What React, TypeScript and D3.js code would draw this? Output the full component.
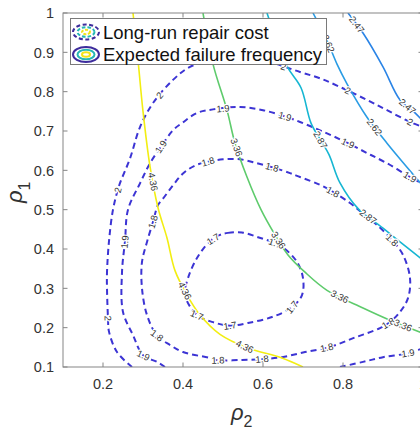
import React from "react";
import * as d3 from "d3";

type Pt = [number, number];

// ---------- axis data ----------
const rho2Domain: Pt = [0.1, 1.0];
const rho1Domain: Pt = [0.1, 1.0];
const rho2Ticks = [0.2, 0.4, 0.6, 0.8, 1.0];
const rho2TickLabels = ["0.2", "0.4", "0.6", "0.8", "1"];
const rho1Ticks = [0.1, 0.2, 0.3, 0.4, 0.5, 0.6, 0.7, 0.8, 0.9, 1.0];
const rho1TickLabels = ["0.1", "0.2", "0.3", "0.4", "0.5", "0.6", "0.7", "0.8", "0.9", "1"];

const legendLabels = ["Long-run repair cost", "Expected failure frequency"];

// ---------- expected failure frequency (solid contours) ----------
const failureLevels = ["4.36", "3.36", "2.87", "2.62", "2.47"];
const failure436: Pt[] = [[0.275, 1.0], [0.2875, 0.88], [0.30, 0.75], [0.3175, 0.61], [0.3375, 0.505], [0.36, 0.428], [0.38, 0.345], [0.41, 0.283], [0.4425, 0.232], [0.4925, 0.183], [0.5625, 0.148], [0.6475, 0.123], [0.70, 0.1]];
const failure336: Pt[] = [[0.45, 1.0], [0.475, 0.87], [0.51, 0.753], [0.53, 0.669], [0.56, 0.583], [0.595, 0.5], [0.63, 0.436], [0.6625, 0.385], [0.705, 0.341], [0.76, 0.295], [0.85, 0.25], [0.9175, 0.219], [1.0, 0.186]];
const failure287: Pt[] = [[0.61, 1.0], [0.66, 0.865], [0.695, 0.81], [0.72, 0.72], [0.745, 0.675], [0.765, 0.64], [0.7925, 0.568], [0.84, 0.5], [0.90, 0.453], [0.9425, 0.418], [1.0, 0.372]];
const failure262: Pt[] = [[0.725, 1.0], [0.76, 0.93], [0.785, 0.87], [0.81, 0.82], [0.86, 0.735], [0.91, 0.669], [0.96, 0.608], [1.0, 0.56]];
const failure247: Pt[] = [[0.8125, 1.0], [0.85, 0.949], [0.90, 0.863], [0.9425, 0.779], [0.98, 0.746], [1.0, 0.725]];
const failureLines = [failure436, failure336, failure287, failure262, failure247];

const failureLabels436: Pt[] = [[0.32, 0.57], [0.3975, 0.29], [0.55, 0.143]];
const failureLabels336: Pt[] = [[0.53, 0.657], [0.635, 0.42], [0.7875, 0.27], [0.9475, 0.199]];
const failureLabels287: Pt[] = [[0.7425, 0.677], [0.86, 0.478]];
const failureLabels262: Pt[] = [[0.7675, 0.924], [0.875, 0.707]];
const failureLabels247: Pt[] = [[0.83, 0.967], [0.96, 0.761]];
const failureLabels = [failureLabels436, failureLabels336, failureLabels287, failureLabels262, failureLabels247];

// ---------- long-run repair cost (dashed contours) ----------
const costLevels = ["2", "1.9", "1.9", "1.8", "1.7"];
const cost20: Pt[] = [[0.2725, 0.1], [0.235, 0.138], [0.215, 0.19], [0.2125, 0.224], [0.21, 0.3], [0.21, 0.341], [0.215, 0.42], [0.225, 0.5], [0.24, 0.56], [0.2675, 0.63], [0.2925, 0.71], [0.325, 0.771], [0.375, 0.83], [0.4175, 0.863], [0.48, 0.882], [0.55, 0.886], [0.62, 0.874], [0.6925, 0.85], [0.7425, 0.834], [0.7925, 0.812], [0.86, 0.779], [0.91, 0.753], [0.9675, 0.723], [1.0, 0.71]];
const cost19: Pt[] = [[0.355, 0.1], [0.335, 0.113], [0.30, 0.13], [0.275, 0.181], [0.25, 0.24], [0.2475, 0.341], [0.255, 0.42], [0.2625, 0.5], [0.2925, 0.567], [0.3175, 0.618], [0.345, 0.66], [0.375, 0.702], [0.40, 0.722], [0.435, 0.746], [0.475, 0.755], [0.5425, 0.761], [0.60, 0.753], [0.655, 0.737], [0.6925, 0.723], [0.76, 0.694], [0.8125, 0.669], [0.86, 0.644], [0.91, 0.618], [0.9675, 0.583], [1.0, 0.565]];
const cost19b: Pt[] = [[0.7925, 0.1], [0.85, 0.113], [0.90, 0.125], [0.9625, 0.135], [1.0, 0.148]];
const cost18: Pt[] = [[0.3375, 0.512], [0.35, 0.528], [0.375, 0.562], [0.40, 0.592], [0.43, 0.612], [0.4625, 0.622], [0.50, 0.628], [0.5425, 0.628], [0.585, 0.618], [0.6225, 0.608], [0.6675, 0.593], [0.6925, 0.583], [0.7425, 0.563], [0.775, 0.545], [0.8175, 0.517], [0.85, 0.49], [0.885, 0.461], [0.9225, 0.423], [0.95, 0.385], [0.9675, 0.326], [0.9625, 0.275], [0.9425, 0.24], [0.9175, 0.214], [0.8925, 0.199], [0.83, 0.175], [0.7675, 0.151], [0.705, 0.138], [0.6475, 0.125], [0.5975, 0.12], [0.5475, 0.118], [0.4875, 0.117], [0.4675, 0.123], [0.40, 0.138], [0.3675, 0.156], [0.335, 0.18], [0.31, 0.232], [0.2975, 0.30], [0.2975, 0.367], [0.31, 0.418], [0.325, 0.469]];
const cost17: Pt[] = [[0.4925, 0.436], [0.5125, 0.441], [0.5475, 0.442], [0.5875, 0.43], [0.63, 0.415], [0.655, 0.40], [0.685, 0.367], [0.70, 0.326], [0.6975, 0.283], [0.6725, 0.252], [0.6225, 0.227], [0.5625, 0.212], [0.5175, 0.205], [0.475, 0.214], [0.435, 0.232], [0.405, 0.283], [0.4125, 0.326], [0.435, 0.377], [0.4675, 0.42]];
const costLines = [cost20, cost19, cost19b, cost18, cost17];
const costClosed = [false, false, false, true, true];

const costLabels20: Pt[] = [[0.2375, 0.55], [0.3425, 0.79], [0.21, 0.224], [0.65, 0.86], [0.8125, 0.803], [0.9675, 0.723]];
const costLabels19: Pt[] = [[0.255, 0.418], [0.30, 0.128], [0.345, 0.66], [0.50, 0.757], [0.655, 0.737], [0.8125, 0.669], [0.9675, 0.583]];
const costLabels19b: Pt[] = [[0.9625, 0.135]];
const costLabels18: Pt[] = [[0.325, 0.469], [0.4625, 0.622], [0.6225, 0.608], [0.775, 0.545], [0.9225, 0.423], [0.9125, 0.212], [0.76, 0.147], [0.5975, 0.12], [0.4875, 0.117], [0.335, 0.18]];
const costLabels17: Pt[] = [[0.475, 0.425], [0.435, 0.232], [0.5175, 0.205], [0.6725, 0.252], [0.63, 0.415]];
const costLabels = [costLabels20, costLabels19, costLabels19b, costLabels18, costLabels17];

// ---------- styles ----------
const failureColors = ["#f2ee12", "#5ecb6c", "#16b6d2", "#2a9ce4", "#2a84e6"];
const costColor = "#3c34d4";
const FONT = "'Liberation Sans', Arial, Helvetica, sans-serif";

const X0 = 63, X1 = 423, Y0 = 13, Y1 = 367;

function snapLabel(pts: [number, number][], p: [number, number]) {
  let best = { d: Infinity, x: p[0], y: p[1], a: 0 };
  for (let i = 0; i < pts.length - 1; i++) {
    const [ax, ay] = pts[i];
    const [bx, by] = pts[i + 1];
    const dx = bx - ax, dy = by - ay;
    const L2 = dx * dx + dy * dy || 1;
    let t = ((p[0] - ax) * dx + (p[1] - ay) * dy) / L2;
    t = Math.max(0, Math.min(1, t));
    const qx = ax + t * dx, qy = ay + t * dy;
    const d = (qx - p[0]) ** 2 + (qy - p[1]) ** 2;
    if (d < best.d) {
      let a = (Math.atan2(dy, dx) * 180) / Math.PI;
      if (a > 90) a -= 180;
      if (a < -90) a += 180;
      best = { d, x: qx, y: qy, a };
    }
  }
  return best;
}

export default function App() {
  const x = d3.scaleLinear().domain(rho2Domain).range([X0, X1]);
  const y = d3.scaleLinear().domain(rho1Domain).range([Y1, Y0]);

  const openLine = d3.line<Pt>().x((d) => x(d[0])).y((d) => y(d[1])).curve(d3.curveCatmullRom.alpha(0.5));
  const closedLine = d3.line<Pt>().x((d) => x(d[0])).y((d) => y(d[1])).curve(d3.curveCatmullRomClosed.alpha(0.5));

  const toPx = (arr: Pt[], closed: boolean): [number, number][] => {
    const p = arr.map((d) => [x(d[0]), y(d[1])] as [number, number]);
    if (closed) p.push(p[0]);
    return p;
  };

  const labelEls: React.ReactNode[] = [];
  costLines.forEach((line, i) => {
    const px = toPx(line, costClosed[i]);
    costLabels[i].forEach((lp, j) => {
      const s = snapLabel(px, [x(lp[0]), y(lp[1])]);
      labelEls.push(
        <text key={`c${i}-${j}`} transform={`translate(${s.x},${s.y}) rotate(${s.a})`} textAnchor="middle" dy="0.35em"
          fontSize={9.5} fontFamily={FONT} fill="#333" stroke="#fff" strokeWidth={2.5} paintOrder="stroke">
          {costLevels[i]}
        </text>
      );
    });
  });
  failureLines.forEach((line, i) => {
    const px = toPx(line, false);
    failureLabels[i].forEach((lp, j) => {
      const s = snapLabel(px, [x(lp[0]), y(lp[1])]);
      labelEls.push(
        <text key={`f${i}-${j}`} transform={`translate(${s.x},${s.y}) rotate(${s.a})`} textAnchor="middle" dy="0.35em"
          fontSize={9.5} fontFamily={FONT} fill="#333" stroke="#fff" strokeWidth={2.5} paintOrder="stroke">
          {failureLevels[i]}
        </text>
      );
    });
  });

  const tickLen = 4.5;
  const axisColor = "#858585";

  return (
    <svg width={420} height={430} style={{ position: "absolute", left: 0, top: 0, background: "#fff" }}>
      <defs>
        <clipPath id="plotClip">
          <rect x={X0} y={Y0} width={X1 - X0} height={Y1 - Y0} />
        </clipPath>
      </defs>
      <rect x={0} y={0} width={420} height={430} fill="#fff" />

      <g clipPath="url(#plotClip)">
        {costLines.map((line, i) => (
          <path key={`cl${i}`} d={(costClosed[i] ? closedLine : openLine)(line) || ""} fill="none" stroke={costColor}
            strokeWidth={2} strokeDasharray="6,4" />
        ))}
        {failureLines.map((line, i) => (
          <path key={`fl${i}`} d={openLine(line) || ""} fill="none" stroke={failureColors[i]} strokeWidth={1.6} />
        ))}
        {labelEls}
      </g>

      {/* axes box */}
      <rect x={X0} y={Y0} width={X1 - X0} height={Y1 - Y0} fill="none" stroke={axisColor} strokeWidth={1} />
      {rho2Ticks.map((t, i) => (
        <g key={`xt${i}`}>
          <line x1={x(t)} x2={x(t)} y1={Y1} y2={Y1 - tickLen} stroke={axisColor} />
          <line x1={x(t)} x2={x(t)} y1={Y0} y2={Y0 + tickLen} stroke={axisColor} />
          <text x={x(t)} y={388.5} textAnchor="middle" fontSize={14.5} fontFamily={FONT} fill="#333">
            {rho2TickLabels[i]}
          </text>
        </g>
      ))}
      {rho1Ticks.map((t, i) => (
        <g key={`yt${i}`}>
          <line x1={X0} x2={X0 + tickLen} y1={y(t)} y2={y(t)} stroke={axisColor} />
          <line x1={X1} x2={X1 - tickLen} y1={y(t)} y2={y(t)} stroke={axisColor} />
          <text x={54} y={y(t)} dy="0.36em" textAnchor="end" fontSize={14.5} fontFamily={FONT} fill="#333">
            {rho1TickLabels[i]}
          </text>
        </g>
      ))}

      {/* axis labels */}
      <text x={231} y={420} fontSize={22} fontFamily={FONT} fontStyle="italic" fill="#333">
        ρ<tspan fontSize={16} fontStyle="normal" dy={7}>2</tspan>
      </text>
      <text transform="translate(22,203) rotate(-90)" fontSize={22} fontFamily={FONT} fontStyle="italic" fill="#333">
        ρ<tspan fontSize={16} fontStyle="normal" dy={8}>1</tspan>
      </text>

      {/* legend */}
      <g>
        <rect x={70.5} y={18.5} width={256} height={46} fill="#fff" stroke="#7a7a7a" strokeWidth={1} />
        <g>
          <ellipse cx={86} cy={32} rx={13} ry={7.5} fill="none" stroke="#3d2c9c" strokeWidth={2} strokeDasharray="4,2.5" />
          <ellipse cx={86} cy={32} rx={8.5} ry={4.8} fill="none" stroke="#26b8b4" strokeWidth={2} strokeDasharray="3.5,2" />
          <ellipse cx={86} cy={32} rx={4} ry={2.2} fill="none" stroke="#f2e418" strokeWidth={2} strokeDasharray="3,1.5" />
          <text x={103} y={38.5} fontSize={18.5} fontFamily={FONT} fill="#111">{legendLabels[0]}</text>
        </g>
        <g>
          <ellipse cx={86} cy={54.5} rx={13} ry={7.5} fill="none" stroke="#3d2c9c" strokeWidth={2} />
          <ellipse cx={86} cy={54.5} rx={8.5} ry={4.8} fill="none" stroke="#26b8b4" strokeWidth={2} />
          <ellipse cx={86} cy={54.5} rx={4} ry={2.2} fill="none" stroke="#f2e418" strokeWidth={2} />
          <text x={103} y={61} fontSize={18.5} fontFamily={FONT} fill="#111">{legendLabels[1]}</text>
        </g>
      </g>
    </svg>
  );
}
